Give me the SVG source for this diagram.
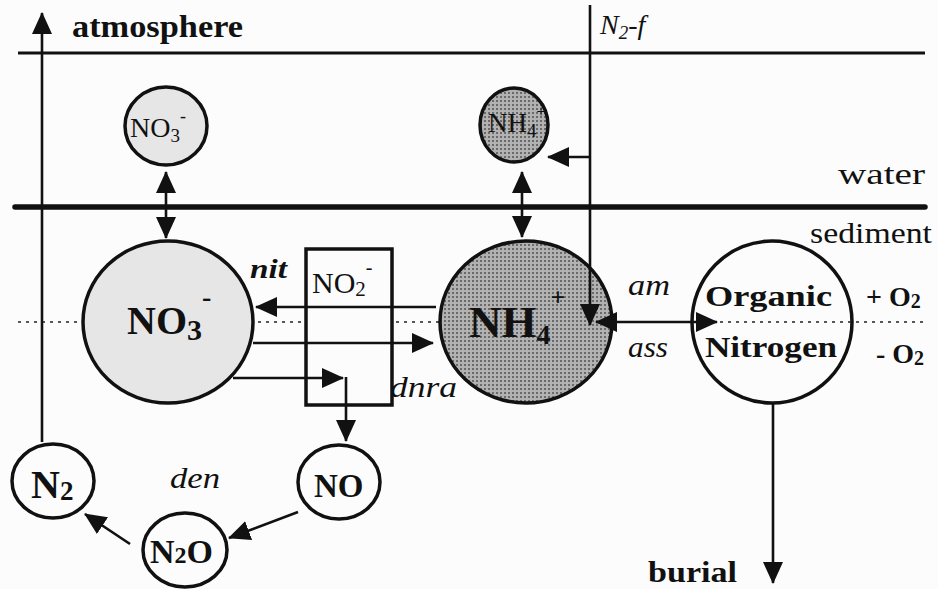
<svg xmlns="http://www.w3.org/2000/svg" width="938" height="589" viewBox="0 0 938 589" font-family="Liberation Serif, serif">
<defs>
<style>
text{font-family:"Liberation Serif",serif;fill:#111}
.b{font-weight:bold}
.i{font-style:italic}
.ln{stroke:#111;stroke-width:2.6;fill:none}
.nd{stroke:#111;stroke-width:3.5}
.dot{stroke:#222;stroke-width:1.6;stroke-dasharray:3 5;fill:none}
.ah{marker-end:url(#ah)}
.dbl{marker-end:url(#ah);marker-start:url(#ah)}
</style>
<marker id="ah" viewBox="0 0 22 20" refX="21" refY="10" markerWidth="22" markerHeight="20" markerUnits="userSpaceOnUse" orient="auto-start-reverse">
<path d="M0,0 L22,10 L0,20 z" fill="#111"/>
</marker>
<pattern id="stip" width="4" height="4" patternUnits="userSpaceOnUse">
<rect width="4" height="4" fill="#b2b2b2"/>
<rect width="2" height="2" fill="#6a6a6a"/>
</pattern>
</defs>
<rect width="938" height="589" fill="#fcfcfc"/>

<g id="layers">
<line x1="18" y1="53" x2="925" y2="53" stroke="#111" stroke-width="2.8"/>
<line x1="15" y1="207" x2="925" y2="207" stroke="#111" stroke-width="5.5" stroke-linecap="round"/>
<line class="dot" x1="18" y1="322" x2="80" y2="322"/>
<line class="dot" x1="258" y1="322" x2="304" y2="322"/>
<line class="dot" x1="396" y1="322" x2="440" y2="322"/>
<line class="dot" x1="720" y1="322" x2="925" y2="322"/>
<text x="72" y="37" class="b" font-size="31" font-family="Liberation Serif" textLength="171" lengthAdjust="spacingAndGlyphs">atmosphere</text>
<text x="838" y="184" font-size="30" font-family="Liberation Serif" textLength="87" lengthAdjust="spacingAndGlyphs">water</text>
<text x="810" y="243" font-size="30" font-family="Liberation Serif" textLength="122" lengthAdjust="spacingAndGlyphs">sediment</text>
<text x="866" y="306" class="b" font-size="28" font-family="Liberation Serif">+ O<tspan font-size="20" dy="2">2</tspan></text>
<text x="876" y="363" class="b" font-size="28" font-family="Liberation Serif">- O<tspan font-size="20" dy="2">2</tspan></text>
</g>

<g id="no3-water">
<ellipse class="nd" cx="166" cy="126" rx="41" ry="39" fill="#e6e6e6"/>
<text x="130" y="137" font-size="28" font-family="Liberation Serif">NO<tspan font-size="19" dy="5">3</tspan><tspan font-size="18" dy="-20">-</tspan></text>
</g>

<g id="nh4-water">
<ellipse class="nd" cx="514" cy="125" rx="34" ry="37" fill="url(#stip)"/>
<text x="488" y="132" font-size="27" font-family="Liberation Serif">NH<tspan font-size="19" dy="5">4</tspan><tspan font-size="16" dy="-20">+</tspan></text>
</g>

<g id="no3-sed">
<ellipse class="nd" cx="168" cy="322" rx="85" ry="81" fill="#e6e6e6"/>
<text x="127" y="334" class="b" font-size="40" font-family="Liberation Serif">NO<tspan font-size="30" dy="6">3</tspan><tspan font-size="28" dy="-34">-</tspan></text>
</g>

<g id="no2">
<rect class="nd" x="306" y="249" width="86" height="156" fill="none"/>
<text x="312" y="293" font-size="30" font-family="Liberation Serif">NO<tspan font-size="21" dy="3">2</tspan><tspan font-size="20" dy="-22">-</tspan></text>
</g>

<g id="nh4-sed">
<ellipse class="nd" cx="526" cy="322" rx="86" ry="81" fill="url(#stip)"/>
<text x="469" y="337" class="b" font-size="45" font-family="Liberation Serif">NH<tspan font-size="28" dy="7">4</tspan><tspan font-size="26" dy="-38">+</tspan></text>
</g>

<g id="organic-n">
<ellipse class="nd" cx="772" cy="322" rx="80" ry="81" fill="none"/>
<text x="705" y="306" class="b" font-size="30" font-family="Liberation Serif" textLength="127" lengthAdjust="spacingAndGlyphs">Organic</text>
<text x="705" y="357" class="b" font-size="30" font-family="Liberation Serif" textLength="132" lengthAdjust="spacingAndGlyphs">Nitrogen</text>
</g>

<g id="n2">
<ellipse class="nd" cx="53" cy="481" rx="41" ry="37" fill="#fcfcfc"/>
<text x="31" y="498" class="b" font-size="40" font-family="Liberation Serif">N<tspan font-size="27" dy="2">2</tspan></text>
</g>

<g id="n2o">
<ellipse class="nd" cx="185" cy="550" rx="42" ry="37" fill="#fcfcfc"/>
<text x="150" y="563" class="b" font-size="34" font-family="Liberation Serif">N<tspan font-size="24">2</tspan>O</text>
</g>

<g id="no">
<ellipse class="nd" cx="339" cy="482" rx="41" ry="37" fill="#fcfcfc"/>
<text x="314" y="497" class="b" font-size="33" font-family="Liberation Serif">NO</text>
</g>

<g id="connectors">
<line class="ln ah" x1="42" y1="442" x2="42" y2="13"/>
<line class="ln ah" x1="590" y1="5" x2="590" y2="325"/>
<line class="ln ah" x1="590" y1="157" x2="548" y2="157"/>
<line class="ln dbl" x1="166" y1="172" x2="166" y2="238"/>
<line class="ln dbl" x1="522" y1="172" x2="522" y2="237"/>
<line class="ln ah" x1="436" y1="307" x2="256" y2="307"/>
<line class="ln ah" x1="253" y1="343" x2="433" y2="343"/>
<line class="ln ah" x1="233" y1="378" x2="343" y2="378"/>
<line class="ln ah" x1="346" y1="377" x2="346" y2="441"/>
<line class="ln dbl" x1="596" y1="322" x2="717" y2="322"/>
<line class="ln ah" x1="298" y1="512" x2="229" y2="538"/>
<line class="ln ah" x1="130" y1="544" x2="85" y2="514"/>
<line class="ln ah" x1="773" y1="403" x2="773" y2="583"/>
<text x="600" y="34" class="i" font-size="28" font-family="Liberation Serif">N<tspan font-size="19" dy="5">2</tspan><tspan dy="-5">-f</tspan></text>
<text x="250" y="278" class="b i" font-size="27" font-family="Liberation Serif" textLength="37" lengthAdjust="spacingAndGlyphs">nit</text>
<text x="390" y="397" class="i" font-size="30" font-family="Liberation Serif" textLength="67" lengthAdjust="spacingAndGlyphs">dnra</text>
<text x="628" y="295" class="i" font-size="30" font-family="Liberation Serif" textLength="42" lengthAdjust="spacingAndGlyphs">am</text>
<text x="628" y="357" class="i" font-size="30" font-family="Liberation Serif" textLength="40" lengthAdjust="spacingAndGlyphs">ass</text>
<text x="170" y="488" class="i" font-size="30" font-family="Liberation Serif" textLength="50" lengthAdjust="spacingAndGlyphs">den</text>
<text x="648" y="582" class="b" font-size="30" font-family="Liberation Serif" textLength="89" lengthAdjust="spacingAndGlyphs">burial</text>
</g>
</svg>
